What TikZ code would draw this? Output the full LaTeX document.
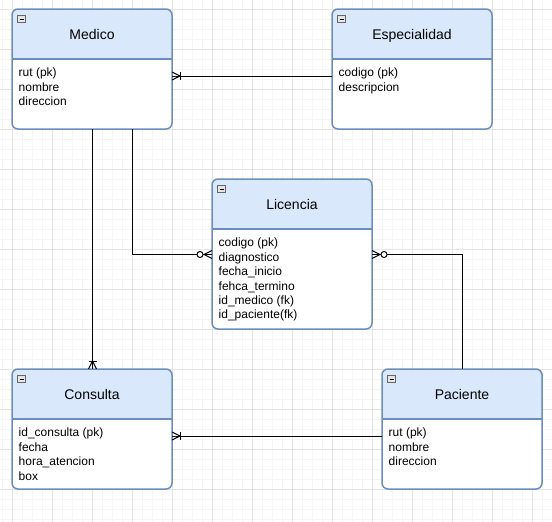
\documentclass[tikz,border=0pt]{standalone}
\usepackage{fontspec}
\setmainfont{Liberation Sans}
\usetikzlibrary{calc}
\definecolor{hdr}{HTML}{DAE8FC}
\definecolor{bord}{HTML}{6C8EBF}
\definecolor{gmaj}{HTML}{E5E5E5}
\definecolor{gmin}{HTML}{F6F6F6}
\tikzset{
  ebox/.style={draw=bord, line width=1.5pt, rounded corners=6pt, fill=white,
    minimum width=160pt, inner sep=0pt, outer sep=0pt, anchor=north west,
    path picture={\fill[hdr, sharp corners] (path picture bounding box.north west)
      rectangle ([yshift=-50pt]path picture bounding box.north east);}},
  etitle/.style={font=\fontsize{14}{16}\selectfont, inner sep=0pt},
  eattr/.style={font=\fontsize{12}{14.4}\selectfont, align=left, inner sep=0pt, anchor=north west},
  rel/.style={draw=black, line width=1pt},
  minorgrid/.style={draw=gmin, line width=1pt},
  majorgrid/.style={draw=gmaj, line width=1pt},
}
\newcommand\entity[6]{%
  \node[ebox, minimum height=#4pt] (#1) at (#2,#3) {};
  \draw[draw=bord, line width=1.5pt] ([yshift=-50pt]#1.north west) -- ([yshift=-50pt]#1.north east);
  \node[etitle, anchor=base] (#1-title) at ([yshift=-30pt]#1.north) {#5};
  \node[eattr] (#1-attrs) at ([xshift=6.5pt,yshift=-59pt]#1.north west) {#6};
  \draw[draw=gray!80!black, fill=gray!20, line width=0.8pt] ([xshift=5.5pt,yshift=-6.5pt]#1.north west) rectangle ++(8,7);
  \draw[line width=1pt] ([xshift=7.5pt,yshift=-10pt]#1.north west) -- ++(4,0);
}
\begin{document}
\begin{tikzpicture}[x=1pt, y=-1pt]
\useasboundingbox (0,0) rectangle (552,522);
\fill[white] (0,0) rectangle (552,522);
% grid
\foreach \x in {2,12,...,552} \draw[minorgrid] (\x,0) -- (\x,522);
\foreach \y in {-1,9,...,522} \draw[minorgrid] (0,\y) -- (552,\y);
\foreach \x in {12,52,...,552} \draw[majorgrid] (\x,0) -- (\x,522);
\foreach \y in {9,49,...,522} \draw[majorgrid] (0,\y) -- (552,\y);

% entities
\entity{medico}{12}{9}{120}{Medico}{rut (pk)\\nombre\\direccion}
\entity{especialidad}{332}{9}{120}{Especialidad}{codigo (pk)\\descripcion}
\entity{licencia}{212}{179}{150}{Licencia}{codigo (pk)\\diagnostico\\fecha\_inicio\\fehca\_termino\\id\_medico (fk)\\id\_paciente(fk)}
\entity{consulta}{12}{369}{120}{Consulta}{id\_consulta (pk)\\fecha\\hora\_atencion\\box}
\entity{paciente}{382}{369}{120}{Paciente}{rut (pk)\\nombre\\direccion}

% Medico -- Especialidad (one or many at Medico)
\coordinate (me1) at ($(medico.north east)+(0,67)$);
\coordinate (me2) at ($(especialidad.north west)+(0,67)$);
\draw[rel] (me1) -- (me2);
\draw[rel] ($(me1)+(0,-4)$) -- ($(me1)+(8,0)$) -- ($(me1)+(0,4)$);
\draw[rel] ($(me1)+(8,-4)$) -- ($(me1)+(8,4)$);

% Medico -- Consulta (one or many at Consulta)
\coordinate (mc1) at ($(medico.south)+(0.5,0)$);
\coordinate (mc2) at ($(consulta.north)+(0.5,0)$);
\draw[rel] (mc1) -- (mc2);
\draw[rel] ($(mc2)+(-4,0)$) -- ($(mc2)+(0,-8)$) -- ($(mc2)+(4,0)$);
\draw[rel] ($(mc2)+(-4,-8)$) -- ($(mc2)+(4,-8)$);

% Medico -- Licencia (zero or many at Licencia)
\coordinate (ml1) at ($(medico.south)+(40.5,0)$);
\coordinate (ml2) at ($(licencia.west)+(0,0.5)$);
\draw[rel] (ml1) |- ($(ml2)+(-15,0)$);
\draw[rel] ($(ml2)+(-9,0)$) -- (ml2);
\draw[rel] ($(ml2)+(-12,0)$) circle (3);
\draw[rel] ($(ml2)+(0,-4)$) -- ($(ml2)+(-8,0)$) -- ($(ml2)+(0,4)$);

% Paciente -- Licencia (zero or many at Licencia)
\coordinate (pl1) at ($(paciente.north)+(0.5,0)$);
\coordinate (pl2) at ($(licencia.east)+(0,0.5)$);
\draw[rel] (pl1) |- ($(pl2)+(15,0)$);
\draw[rel] ($(pl2)+(9,0)$) -- (pl2);
\draw[rel] ($(pl2)+(12,0)$) circle (3);
\draw[rel] ($(pl2)+(0,-4)$) -- ($(pl2)+(8,0)$) -- ($(pl2)+(0,4)$);

% Paciente -- Consulta (one or many at Consulta)
\coordinate (pc1) at ($(paciente.north west)+(0,67)$);
\coordinate (pc2) at ($(consulta.north east)+(0,67)$);
\draw[rel] (pc1) -- (pc2);
\draw[rel] ($(pc2)+(0,-4)$) -- ($(pc2)+(8,0)$) -- ($(pc2)+(0,4)$);
\draw[rel] ($(pc2)+(8,-4)$) -- ($(pc2)+(8,4)$);
\end{tikzpicture}
\end{document}
